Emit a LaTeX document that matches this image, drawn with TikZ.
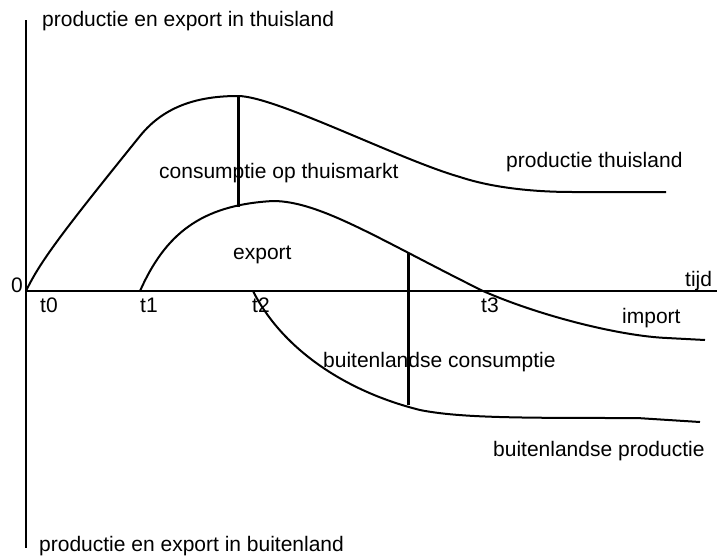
\documentclass[tikz,border=0pt]{standalone}
\usepackage{fontspec}
\setmainfont{Liberation Sans}
\usepackage{tikz}
\usetikzlibrary{positioning}

\begin{document}
\begin{tikzpicture}[x=1pt,y=-1pt,
 axis/.style={draw=black,line width=2pt},
 curve/.style={draw=black,line width=2pt},
 share/.style={draw=black,line width=3pt},
 lab/.style={font=\fontsize{21}{25}\selectfont,inner sep=0pt,anchor=base west}
]
\useasboundingbox (0,0) rectangle (717,557);

% axes
\coordinate (O) at (26,291);
\coordinate (ytop) at (26,20);
\coordinate (ybot) at (26,548);
\coordinate (xend) at (717,291);
\draw[axis] (ytop)--(ybot);
\draw[axis] (O)--(xend);

\node[lab] (ttop) at (42,26) {productie en export in thuisland};
\node[lab] (tbot) at (39,551) {productie en export in buitenland};
\node[lab,anchor=base east] (zero) at (23,292) {0};
\node[lab] (tijd) at (685,286) {tijd};
\node[lab] (t0) at (40,312) {t0};
\node[lab] (t1) at (140,312) {t1};
\node[lab] (t2) at (252,312) {t2};
\node[lab] (t3) at (481,312) {t3};

% curves
\draw[curve] (O) .. controls (40,262) and (60,235) .. (140,136)
 .. controls (165,105) and (200,96) .. (238,96)
 .. controls (275,96) and (400,160) .. (460,177)
 .. controls (490,187) and (530,192) .. (573,192) -- (666,192);
\draw[curve] (140,291) .. controls (165,235) and (200,205) .. (273,201)
 .. controls (320,201) and (380,240) .. (483,291)
 .. controls (540,316) and (620,336) .. (667,338) -- (705,340);
\draw[curve] (253,291) .. controls (280,345) and (340,390) .. (420,410)
 .. controls (460,418) and (520,418) .. (637,418) -- (700,422);

% shares
\coordinate (h1) at (238,96);
\coordinate (h2) at (238,207);
\coordinate (f1) at (408,253);
\coordinate (f2) at (408,405);
\draw[share] (h1)--(h2);
\draw[share] (f1)--(f2);

\node[lab] (cons) at (159,178) {consumptie op thuismarkt};
\node[lab] (prod) at (506,167) {productie thuisland};
\node[lab] (exp) at (233,259) {export};
\node[lab] (imp) at (622,323) {import};
\node[lab] (bcons) at (323,367) {buitenlandse consumptie};
\node[lab] (bprod) at (493,456) {buitenlandse productie};
\end{tikzpicture}
\end{document}
